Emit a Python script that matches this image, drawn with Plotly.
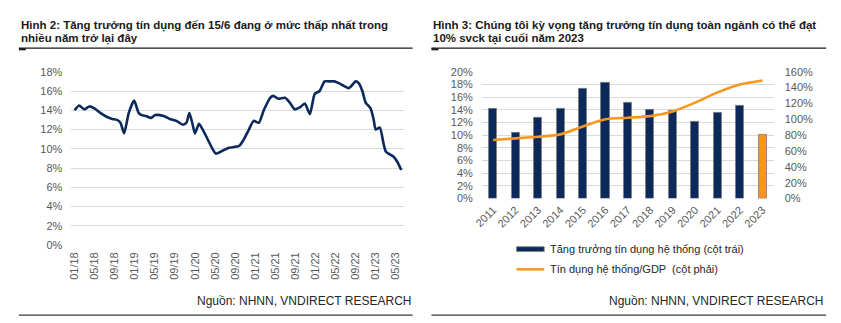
import plotly.graph_objects as go

# ---------------- Data ----------------
# Left chart: credit growth (% yoy)
left_dates = [
    "2018-01-01", "2018-01-28", "2018-03-01", "2018-03-31", "2018-05-01", "2018-06-08",
    "2018-07-17", "2018-08-17", "2018-09-15", "2018-10-06", "2018-10-28", "2018-11-25",
    "2018-12-28", "2019-01-25", "2019-02-12", "2019-03-10", "2019-04-10", "2019-05-05",
    "2019-06-25", "2019-07-31", "2019-09-10", "2019-10-20", "2019-11-10", "2019-11-28",
    "2019-12-18", "2020-01-01", "2020-01-25", "2020-02-10", "2020-03-12", "2020-04-16",
    "2020-05-06", "2020-06-16", "2020-07-25", "2020-09-25", "2020-10-24", "2020-11-23",
    "2020-12-22", "2021-01-22", "2021-02-21", "2021-04-01", "2021-04-20", "2021-05-20",
    "2021-06-30", "2021-07-29", "2021-08-28", "2021-09-28", "2021-10-28", "2021-11-28",
    "2021-12-27", "2022-01-26", "2022-02-25", "2022-03-25", "2022-04-25", "2022-05-25",
    "2022-06-25", "2022-07-23", "2022-09-02", "2022-09-21", "2022-10-12", "2022-11-01",
    "2022-12-01", "2022-12-20", "2023-01-01", "2023-01-26", "2023-02-18", "2023-03-04",
    "2023-04-18", "2023-05-10", "2023-06-05",
]
left_values = [
    14.0, 14.5, 14.1, 14.4, 14.2, 13.7,
    13.3, 13.1, 13.0, 12.7, 11.6, 13.7,
    15.0, 13.7, 13.5, 13.4, 13.2, 13.5,
    13.4, 13.1, 12.9, 12.5, 12.7, 13.7,
    12.5, 11.6, 12.6, 12.2, 11.2, 10.0,
    9.5, 9.8, 10.1, 10.3, 11.0, 12.0,
    12.9, 12.7, 14.0, 15.3, 15.5, 15.2,
    15.3, 14.8, 14.1, 14.3, 14.7, 13.6,
    15.7, 16.0, 17.0, 17.0, 17.0, 16.8,
    16.5, 16.3, 17.0, 16.8, 16.0, 14.8,
    14.2, 13.0, 12.0, 12.2, 10.5, 9.7,
    9.2, 8.7, 7.8,
]
left_y_ticks = [0, 2, 4, 6, 8, 10, 12, 14, 16, 18]

# Right chart
years = ["2011", "2012", "2013", "2014", "2015", "2016", "2017",
         "2018", "2019", "2020", "2021", "2022", "2023"]
credit_growth = [14.1, 10.4, 12.7, 14.2, 17.3, 18.3, 15.1,
                 14.0, 13.8, 12.1, 13.6, 14.6, 10.0]
credit_gdp = [74, 76, 78, 81, 91, 100, 102, 104, 110, 121, 134, 144, 149]
bar_colors = ["#0B2A5B"] * 12 + ["#F7961E"]
right_y1_ticks = list(range(0, 21, 2))
right_y2_ticks = list(range(0, 161, 20))

title_left = ["Hình 2: Tăng trưởng tín dụng đến 15/6 đang ở mức thấp nhất trong",
              "nhiều năm trở lại đây"]
title_right = ["Hình 3: Chúng tôi kỳ vọng tăng trưởng tín dụng toàn ngành có thể đạt",
               "10% svck tại cuối năm 2023"]
source_text = "Nguồn: NHNN, VNDIRECT RESEARCH"
legend_labels = ["Tăng trưởng tín dụng hệ thống (cột trái)",
                 "Tín dụng hệ thống/GDP  (cột phải)"]

# ---------------- Layout helpers ----------------
W, H = 841, 323
FONT = "Liberation Sans, Arial, sans-serif"
GRID = "#D9D9D9"
TICK = "#595959"


def px(x):
    return x / W


def py(y):
    return 1 - y / H


fig = go.Figure()

fig.add_trace(go.Scatter(
    x=left_dates, y=left_values, mode="lines",
    line=dict(color="#0B2A5B", width=2.6, shape="spline", smoothing=0.6),
    xaxis="x", yaxis="y", showlegend=False, hoverinfo="x+y",
))

fig.add_trace(go.Bar(
    x=years, y=credit_growth, marker=dict(color=bar_colors, line=dict(color="#7F7F7F", width=0.8)),
    width=0.36, xaxis="x2", yaxis="y2", showlegend=False,
))
fig.add_trace(go.Scatter(
    x=years, y=credit_gdp, mode="lines",
    line=dict(color="#F7961E", width=2.6, shape="spline", smoothing=0.8),
    xaxis="x2", yaxis="y3", showlegend=False,
))

tickfont = dict(family=FONT, size=11, color=TICK)

fig.update_layout(
    width=W, height=H,
    margin=dict(l=0, r=0, t=0, b=0),
    paper_bgcolor="white", plot_bgcolor="white",
    font=dict(family=FONT),
    bargap=0,
    xaxis=dict(
        domain=[px(63), px(399)], type="date",
        range=["2017-12-12", "2023-06-20"],
        tickformat="%m/%y", dtick="M4", tick0="2018-01-01",
        tickangle=-90, tickfont=tickfont, showgrid=False, zeroline=False,
        showline=False, ticks="", ticklabelstandoff=4, anchor="y",
    ),
    yaxis=dict(
        domain=[py(248.3), py(68.3)], range=[0, 18],
        tickvals=left_y_ticks, ticktext=[f"{v}%" for v in left_y_ticks],
        tickfont=tickfont, gridcolor=GRID, gridwidth=1, zeroline=False,
        showline=False, ticks="", ticklabelstandoff=8, anchor="x",
    ),
    xaxis2=dict(
        domain=[px(478), px(773)], type="category",
        range=[-0.5, 12.5], tickangle=-45, tickfont=tickfont,
        showgrid=False, zeroline=False, showline=False, ticks="",
        ticklabelstandoff=2, anchor="y2",
    ),
    yaxis2=dict(
        domain=[py(200), py(68.3)], range=[0, 20],
        tickvals=right_y1_ticks, ticktext=[f"{v}%" for v in right_y1_ticks],
        tickfont=tickfont, gridcolor=GRID, gridwidth=1, zeroline=False,
        showline=False, ticks="", ticklabelstandoff=8, anchor="x2",
    ),
    yaxis3=dict(
        domain=[py(200), py(68.3)], range=[0, 160], overlaying="y2", side="right",
        tickvals=right_y2_ticks, ticktext=[f"{v}%" for v in right_y2_ticks],
        tickfont=tickfont, showgrid=False, zeroline=False,
        showline=False, ticks="", ticklabelstandoff=10, anchor="x2",
    ),
)

fig.data[2].update(xaxis="x2", yaxis="y3")

annotations = []
shapes = []

# Titles
for x0, lines in ((10, title_left), (427, title_right)):
    for i, t in enumerate(lines):
        annotations.append(dict(
            x=px(x0), y=py(20.5 + i * 13.5), xref="paper", yref="paper",
            xanchor="left", yanchor="middle", showarrow=False,
            text=f"<b>{t}</b>", font=dict(family=FONT, size=11.5, color="#1A1A1A"),
        ))

# Title and bottom rules
for x0, x1 in ((10, 408), (427, 826)):
    shapes.append(dict(type="line", xref="paper", yref="paper",
                       x0=px(x0), x1=px(x1), y0=py(43.8), y1=py(43.8),
                       line=dict(color="#1A1A1A", width=1.3)))
    shapes.append(dict(type="rect", xref="paper", yref="paper",
                       x0=px(x0), x1=px(x0 + 7), y0=py(46), y1=py(43.8),
                       line=dict(width=0), fillcolor="#1A1A1A"))
    shapes.append(dict(type="line", xref="paper", yref="paper",
                       x0=px(x0), x1=px(x1), y0=py(321), y1=py(321),
                       line=dict(color="#3A3A3A", width=1.3)))

# Sources
for xr in (409, 826):
    annotations.append(dict(
        x=px(xr), y=py(306.5), xref="paper", yref="paper",
        xanchor="right", yanchor="middle", showarrow=False,
        text=source_text, font=dict(family=FONT, size=12, color="#262626"),
    ))

# Manual legend
leg_colors = ["#0B2A5B", "#F7961E"]
for i, (lab, col) in enumerate(zip(legend_labels, leg_colors)):
    yc = 252.5 + i * 21
    if i == 0:
        shapes.append(dict(type="rect", xref="paper", yref="paper",
                           x0=px(513), x1=px(541), y0=py(yc + 2.5), y1=py(yc - 2.5),
                           line=dict(color="#7F7F7F", width=0.8), fillcolor=col))
    else:
        shapes.append(dict(type="line", xref="paper", yref="paper",
                           x0=px(513), x1=px(541), y0=py(yc), y1=py(yc),
                           line=dict(color=col, width=2.5)))
    annotations.append(dict(
        x=px(545), y=py(yc), xref="paper", yref="paper",
        xanchor="left", yanchor="middle", showarrow=False,
        text=lab, font=dict(family=FONT, size=11, color="#262626"),
    ))

fig.update_layout(annotations=annotations, shapes=shapes)

fig.write_html("out.html")
